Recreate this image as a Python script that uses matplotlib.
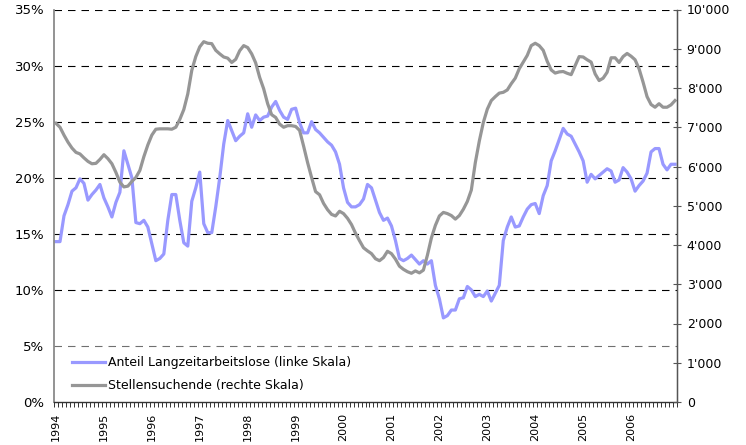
import numpy as np
import matplotlib
matplotlib.use("Agg")
import matplotlib.pyplot as plt
from matplotlib.ticker import FixedLocator, FuncFormatter

# monthly values, Jan 1994 .. Dec 2006
years = list(range(1994, 2007))

share_longterm = [  # Anteil Langzeitarbeitslose, % (linke Skala)
    14.3, 14.3, 16.6, 17.6, 18.8, 19.1, 19.9, 19.5, 18.0, 18.5, 18.9, 19.4,
    18.2, 17.4, 16.5, 17.8, 18.7, 22.4, 21.2, 20.0, 16.0, 15.9, 16.2, 15.6,
    14.1, 12.6, 12.8, 13.2, 16.2, 18.5, 18.5, 16.2, 14.2, 13.9, 17.9, 19.1,
    20.5, 15.9, 15.1, 15.1, 17.4, 20.0, 23.0, 25.1, 24.2, 23.3, 23.7, 24.0,
    25.7, 24.5, 25.6, 25.1, 25.4, 25.5, 26.3, 26.8, 26.0, 25.4, 25.2, 26.1,
    26.2, 24.9, 24.0, 24.0, 25.0, 24.3, 24.0, 23.6, 23.2, 22.9, 22.3, 21.2,
    19.1, 17.8, 17.4, 17.4, 17.6, 18.1, 19.4, 19.1, 18.0, 16.9, 16.2, 16.4,
    15.7, 14.4, 12.8, 12.6, 12.8, 13.1, 12.7, 12.3, 12.6, 12.3, 12.6, 10.4,
    9.2, 7.5, 7.7, 8.2, 8.2, 9.2, 9.3, 10.3, 10.0, 9.4, 9.6, 9.4,
    9.9, 9.0, 9.7, 10.4, 14.4, 15.6, 16.5, 15.6, 15.7, 16.5, 17.2, 17.6,
    17.7, 16.8, 18.4, 19.3, 21.5, 22.4, 23.4, 24.4, 23.9, 23.7, 23.0, 22.3,
    21.5, 19.6, 20.3, 19.9, 20.2, 20.5, 20.8, 20.6, 19.6, 19.8, 20.9, 20.5,
    19.9, 18.8, 19.3, 19.7, 20.4, 22.3, 22.6, 22.6, 21.2, 20.7, 21.2, 21.2,
]

job_seekers = [  # Stellensuchende (rechte Skala)
    7100, 7000, 6800, 6620, 6470, 6360, 6320, 6220, 6130, 6070, 6080, 6180,
    6300, 6200, 6070, 5850, 5600, 5480, 5500, 5620, 5720, 5900, 6250, 6550,
    6800, 6950, 6960, 6960, 6960, 6950, 7000, 7200, 7450, 7850, 8450, 8800,
    9050, 9180, 9140, 9130, 8960, 8870, 8790, 8760, 8650, 8730, 8950, 9080,
    9030, 8870, 8640, 8270, 7980, 7600, 7320, 7250, 7080, 7000, 7040, 7040,
    7020, 6920, 6520, 6100, 5720, 5360, 5280, 5060, 4900, 4780, 4740, 4860,
    4800, 4680, 4520, 4300, 4110, 3930, 3850, 3780, 3650, 3600, 3680, 3840,
    3780, 3640, 3460, 3380, 3320, 3280, 3340, 3290, 3360, 3740, 4180, 4500,
    4740, 4830, 4800, 4750, 4660, 4750, 4910, 5110, 5400, 6100, 6650, 7120,
    7460, 7680, 7780, 7870, 7890, 7950, 8110, 8250, 8490, 8660, 8830, 9080,
    9140, 9080, 8960, 8680, 8460, 8380, 8410, 8420, 8375, 8340, 8570, 8800,
    8790, 8720, 8660, 8360, 8190, 8250, 8400, 8770, 8770, 8650, 8800, 8880,
    8810, 8720, 8490, 8150, 7780, 7580, 7510, 7600, 7510, 7510, 7570, 7680,
]

pct_ticks = [0, 5, 10, 15, 20, 25, 30, 35]
count_ticks = list(range(0, 10001, 1000))

BLUE = "#9999FF"
GREY = "#969696"
FS = 9

W, H = 746, 445
fig = plt.figure(figsize=(W / 100, H / 100), dpi=100)
ax = fig.add_axes([54 / W, 1 - 402 / H, (677 - 54) / W, (402 - 9.5) / H])
ax2 = ax.twinx()

n = len(share_longterm)
months = np.arange(n)
ax.plot(months, share_longterm, color=BLUE, lw=2.3, solid_joinstyle="round",
        label="Anteil Langzeitarbeitslose (linke Skala)")
ax2.plot(months, job_seekers, color=GREY, lw=2.3, solid_joinstyle="round",
         label="Stellensuchende (rechte Skala)")

ax.set_xlim(-0.5, n - 0.5)
ax.set_ylim(0, 35)
ax2.set_ylim(0, 10000)

# dashed horizontal grid
for v in pct_ticks[1:]:
    ax.axhline(v, color="black" if v > 5 else "#707070", lw=0.8,
               ls=(0, (6.75, 5.4)), zorder=0)

ax.set_yticks(pct_ticks)
ax.set_yticklabels([f"{v}%" for v in pct_ticks], fontsize=FS + 0.5)
ax.tick_params(axis="y", length=0, pad=7)

ax2.set_yticks(count_ticks)
ax2.yaxis.set_major_formatter(FuncFormatter(lambda v, _: f"{int(v):,}".replace(",", "'")))
ax2.tick_params(axis="y", direction="inout", length=6, width=0.8,
                color="#555555", labelsize=FS, pad=4)

ax.set_xticks(np.arange(0, n, 12))
ax.set_xticklabels([str(y) for y in years], rotation=90, fontsize=FS - 1)
ax.xaxis.set_minor_locator(FixedLocator(np.arange(-0.5, n, 1)))
ax.tick_params(axis="x", which="major", length=0, pad=8)
ax.tick_params(axis="x", which="minor", length=3.5, width=0.7, color="#333333")
ax2.tick_params(axis="x", which="both", length=0)

for a in (ax, ax2):
    a.spines["top"].set_visible(False)
ax.spines["left"].set_color("#808080")
ax.spines["left"].set_linewidth(1.2)
ax.spines["bottom"].set_color("#333333")
ax.spines["bottom"].set_linewidth(1.0)
ax2.spines["left"].set_visible(False)
ax2.spines["bottom"].set_visible(False)
ax2.spines["right"].set_color("#555555")
ax2.spines["right"].set_linewidth(1.0)

h1, l1 = ax.get_legend_handles_labels()
h2, l2 = ax2.get_legend_handles_labels()
ax2.legend(h1 + h2, l1 + l2, loc="upper left", frameon=False, fontsize=FS,
           bbox_to_anchor=(72 / W, 1 - 356 / H), bbox_transform=fig.transFigure,
           borderpad=0, borderaxespad=0, handlelength=2.6, handletextpad=0.3,
           labelspacing=0.8)

fig.savefig("out.png", dpi=100)
plt.close(fig)
